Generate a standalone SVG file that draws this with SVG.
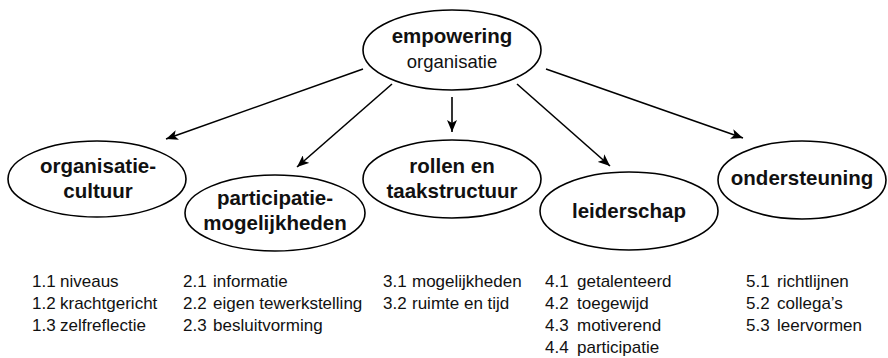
<svg xmlns="http://www.w3.org/2000/svg" width="888" height="358" viewBox="0 0 888 358">
<defs>
<style>
.node ellipse{fill:#fff;stroke:#000;stroke-width:1.6}
.b{font-family:"Liberation Sans",Arial,sans-serif;font-weight:bold;font-size:20.5px;text-anchor:middle;fill:#111}
.r{font-family:"Liberation Sans",Arial,sans-serif;font-size:18.5px;text-anchor:middle;fill:#111}
.l{font-family:"Liberation Sans",Arial,sans-serif;font-size:17px;fill:#111}
.conn line{stroke:#000;stroke-width:1.6;marker-end:url(#ah)}
</style>
<marker id="ah" viewBox="0 0 12 10" refX="12" refY="5" markerWidth="12" markerHeight="10" markerUnits="userSpaceOnUse" orient="auto">
<path d="M0,0 L12,5 L0,10 L3,5 Z" fill="#000"/>
</marker>
</defs>
<rect width="888" height="358" fill="#fff"/>
<g id="connectors" class="conn">
<line x1="363" y1="69" x2="166" y2="139"/>
<line x1="392" y1="84" x2="297" y2="167"/>
<line x1="452" y1="97" x2="452" y2="132"/>
<line x1="517" y1="84" x2="610" y2="166"/>
<line x1="546" y1="69" x2="743" y2="138"/>
</g>
<g id="n0" class="node">
<ellipse cx="452" cy="50" rx="89" ry="40"/>
<text class="b" x="452" y="43">empowering</text>
<text class="r" x="452" y="68">organisatie</text>
</g>
<g id="n1" class="node">
<ellipse cx="97" cy="179" rx="89" ry="38"/>
<text class="b" x="98" y="173">organisatie-</text>
<text class="b" x="98" y="198">cultuur</text>
</g>
<g id="n2" class="node">
<ellipse cx="275" cy="213" rx="90" ry="38"/>
<text class="b" x="275" y="205">participatie-</text>
<text class="b" x="275" y="230">mogelijkheden</text>
</g>
<g id="n3" class="node">
<ellipse cx="452" cy="179" rx="89" ry="39"/>
<text class="b" x="452" y="173">rollen en</text>
<text class="b" x="452" y="198">taakstructuur</text>
</g>
<g id="n4" class="node">
<ellipse cx="629" cy="211" rx="89" ry="39"/>
<text class="b" x="629" y="218">leiderschap</text>
</g>
<g id="n5" class="node">
<ellipse cx="802" cy="180" rx="84" ry="39"/>
<text class="b" x="802" y="185">ondersteuning</text>
</g>
<g id="lists" class="l">
<text x="32" y="287">1.1</text><text x="60" y="287">niveaus</text>
<text x="32" y="309">1.2</text><text x="60" y="309">krachtgericht</text>
<text x="32" y="331">1.3</text><text x="60" y="331">zelfreflectie</text>
<text x="183" y="287">2.1</text><text x="213" y="287">informatie</text>
<text x="183" y="309">2.2</text><text x="213" y="309">eigen tewerkstelling</text>
<text x="183" y="331">2.3</text><text x="213" y="331">besluitvorming</text>
<text x="383" y="287">3.1</text><text x="412" y="287">mogelijkheden</text>
<text x="383" y="309">3.2</text><text x="412" y="309">ruimte en tijd</text>
<text x="545" y="287">4.1</text><text x="577" y="287">getalenteerd</text>
<text x="545" y="309">4.2</text><text x="577" y="309">toegewijd</text>
<text x="545" y="331">4.3</text><text x="577" y="331">motiverend</text>
<text x="545" y="353">4.4</text><text x="577" y="353">participatie</text>
<text x="746" y="287">5.1</text><text x="777" y="287">richtlijnen</text>
<text x="746" y="309">5.2</text><text x="777" y="309">collega’s</text>
<text x="746" y="331">5.3</text><text x="777" y="331">leervormen</text>
</g>
</svg>
